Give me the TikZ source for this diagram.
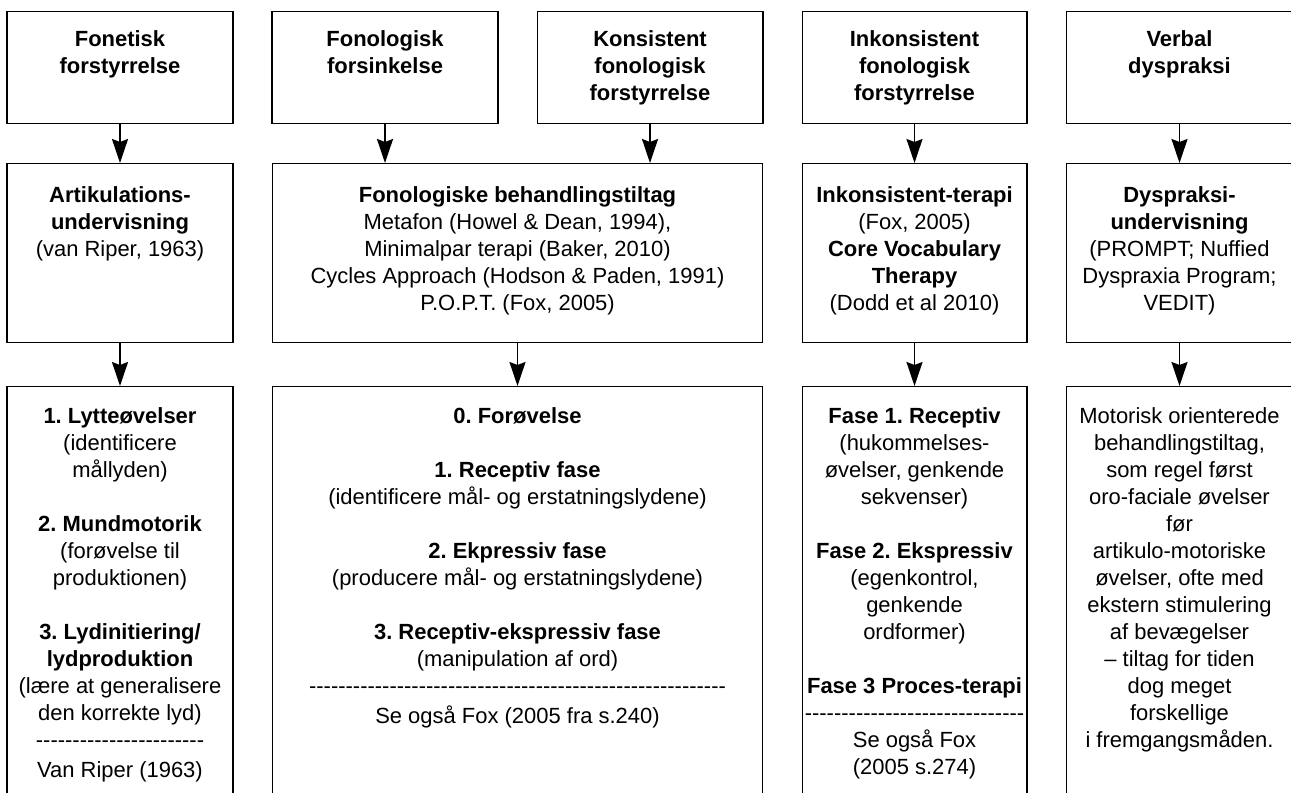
\documentclass[tikz,border=0pt]{standalone}
\usepackage{fontspec}
\setmainfont{Liberation Sans}
\usepackage{tikz}
\usetikzlibrary{arrows.meta}
\pgfdeclarelayer{bg}
\pgfsetlayers{bg,main}
\frenchspacing
\newcount\hycount
\newcommand\hyphrow[1]{\hycount=0 \loop\ifnum\hycount<#1 -\kern0pt\advance\hycount by 1 \repeat}

\begin{document}
\begin{tikzpicture}[x=0.02cm, y=-0.02cm,
        box/.style={draw, line width=0.6pt, anchor=north, inner sep=0pt, minimum width=4.52cm},
        txt/.style={align=center, anchor=north, inner sep=0pt, font=\fontsize{12.5}{15.35}\selectfont,
                execute at begin node={\rule{0pt}{10pt}}},
        hd/.style={txt, font=\fontsize{12.5}{15.35}\selectfont\bfseries},
        arr/.style={line width=1.1pt, -{Stealth[length=0.48cm, width=0.32cm, inset=0.06cm]}}]
        \useasboundingbox (0,0) rectangle (1291,792);
        \clip (0,0) rectangle (1291,792);
        % disorders
        \node (d0) [box, minimum height=2.24cm] at (120, 11) {};
        \node (d1) [box, minimum height=2.24cm] at (385, 11) {};
        \node (d2) [box, minimum height=2.24cm] at (650, 11) {};
        \node (d3) [box, minimum height=2.24cm, minimum width=4.5cm] at (914.5, 11) {};
        \node (d4) [box, minimum height=2.24cm] at (1179.5, 11) {};
        \node (l0) [hd] at (120, 30.4) {Fonetisk\\forstyrrelse};
        \node (l1) [hd] at (385, 30.4) {Fonologisk\\forsinkelse};
        \node (l2) [hd] at (650, 30.4) {Konsistent\\fonologisk\\forstyrrelse};
        \node (l3) [hd] at (914.5, 30.4) {Inkonsistent\\fonologisk\\forstyrrelse};
        \node (l4) [hd] at (1179.5, 30.4) {Verbal\\dyspraksi};
        % approaches
        \node (m0) [box, minimum height=3.58cm] at (120, 163) {};
        \node (m1) [box, minimum height=3.58cm, minimum width=9.82cm] at (517.5, 163) {};
        \node (m3) [box, minimum height=3.58cm, minimum width=4.5cm] at (914.5, 163) {};
        \node (m4) [box, minimum height=3.58cm] at (1179.5, 163) {};
        \node (n0) [txt] at (120, 186.4) {\textbf{Artikulations-}\\\textbf{undervisning}\\(van Riper, 1963)};
        \node (n1) [txt] at (517.5, 186.4) {\textbf{Fonologiske behandlingstiltag}\\Metafon (Howel \& Dean, 1994),\\Minimalpar terapi (Baker, 2010)\\Cycles Approach (Hodson \& Paden, 1991)\\P.O.P.T. (Fox, 2005)};
        \node (n3) [txt] at (914.5, 186.4) {\textbf{Inkonsistent-terapi}\\(Fox, 2005)\\\textbf{Core Vocabulary}\\\textbf{Therapy}\\(Dodd et al 2010)};
        \node (n4) [txt] at (1179.5, 186.4) {\textbf{Dyspraksi-}\\\textbf{undervisning}\\(PROMPT; Nuffied\\Dyspraxia Program;\\VEDIT)};
        % steps
        \node (b0) [box, minimum height=8.28cm] at (120, 386) {};
        \node (b1) [box, minimum height=8.28cm, minimum width=9.82cm] at (517.5, 386) {};
        \node (b3) [box, minimum height=8.28cm, minimum width=4.5cm] at (914.5, 386) {};
        \node (b4) [box, minimum height=8.28cm] at (1179.5, 386) {};
        \node (s0) [txt] at (120, 407.4) {\textbf{1. Lytteøvelser}\\(identificere\\mållyden)\\[15.35pt]\textbf{2. Mundmotorik}\\(forøvelse til\\produktionen)\\[15.35pt]\textbf{3. Lydinitiering/}\\\textbf{lydproduktion}\\(lære at generalisere\\den korrekte lyd)\\\hyphrow{23}\\[2pt]Van Riper (1963)};
        \node (s1) [txt] at (517.5, 407.4) {\textbf{0. Forøvelse}\\[15.35pt]\textbf{1. Receptiv fase}\\(identificere mål- og erstatningslydene)\\[15.35pt]\textbf{2. Ekpressiv fase}\\(producere mål- og erstatningslydene)\\[15.35pt]\textbf{3. Receptiv-ekspressiv fase}\\(manipulation af ord)\\\hyphrow{57}\\[2pt]Se også Fox (2005 fra s.240)};
        \node (s3) [txt] at (914.5, 407.4) {\textbf{Fase 1. Receptiv}\\(hukommelses-\\øvelser, genkende\\sekvenser)\\[15.35pt]\textbf{Fase 2. Ekspressiv}\\(egenkontrol,\\genkende\\ordformer)\\[15.35pt]\textbf{Fase 3 Proces-terapi}\\\hyphrow{30}\\Se også Fox\\(2005 s.274)};
        \node (s4) [txt] at (1179.5, 407.4) {Motorisk orienterede\\behandlingstiltag,\\som regel først\\oro-faciale øvelser\\før\\artikulo-motoriske\\øvelser, ofte med\\ekstern stimulering\\af bevægelser\\– tiltag for tiden\\dog meget\\forskellige\\i fremgangsmåden.};
        \begin{pgfonlayer}{bg}
                \draw (d0) edge [arr] (m0);
                \draw [arr] (d1.south) -- (d1.south |- m1.north);
                \draw [arr] (d2.south) -- (d2.south |- m1.north);
                \draw (d3) edge [arr] (m3);
                \draw (d4) edge [arr] (m4);
                \draw (m0) edge [arr] (b0);
                \draw (m1) edge [arr] (b1);
                \draw (m3) edge [arr] (b3);
                \draw (m4) edge [arr] (b4);
        \end{pgfonlayer}
\end{tikzpicture}
\end{document}
